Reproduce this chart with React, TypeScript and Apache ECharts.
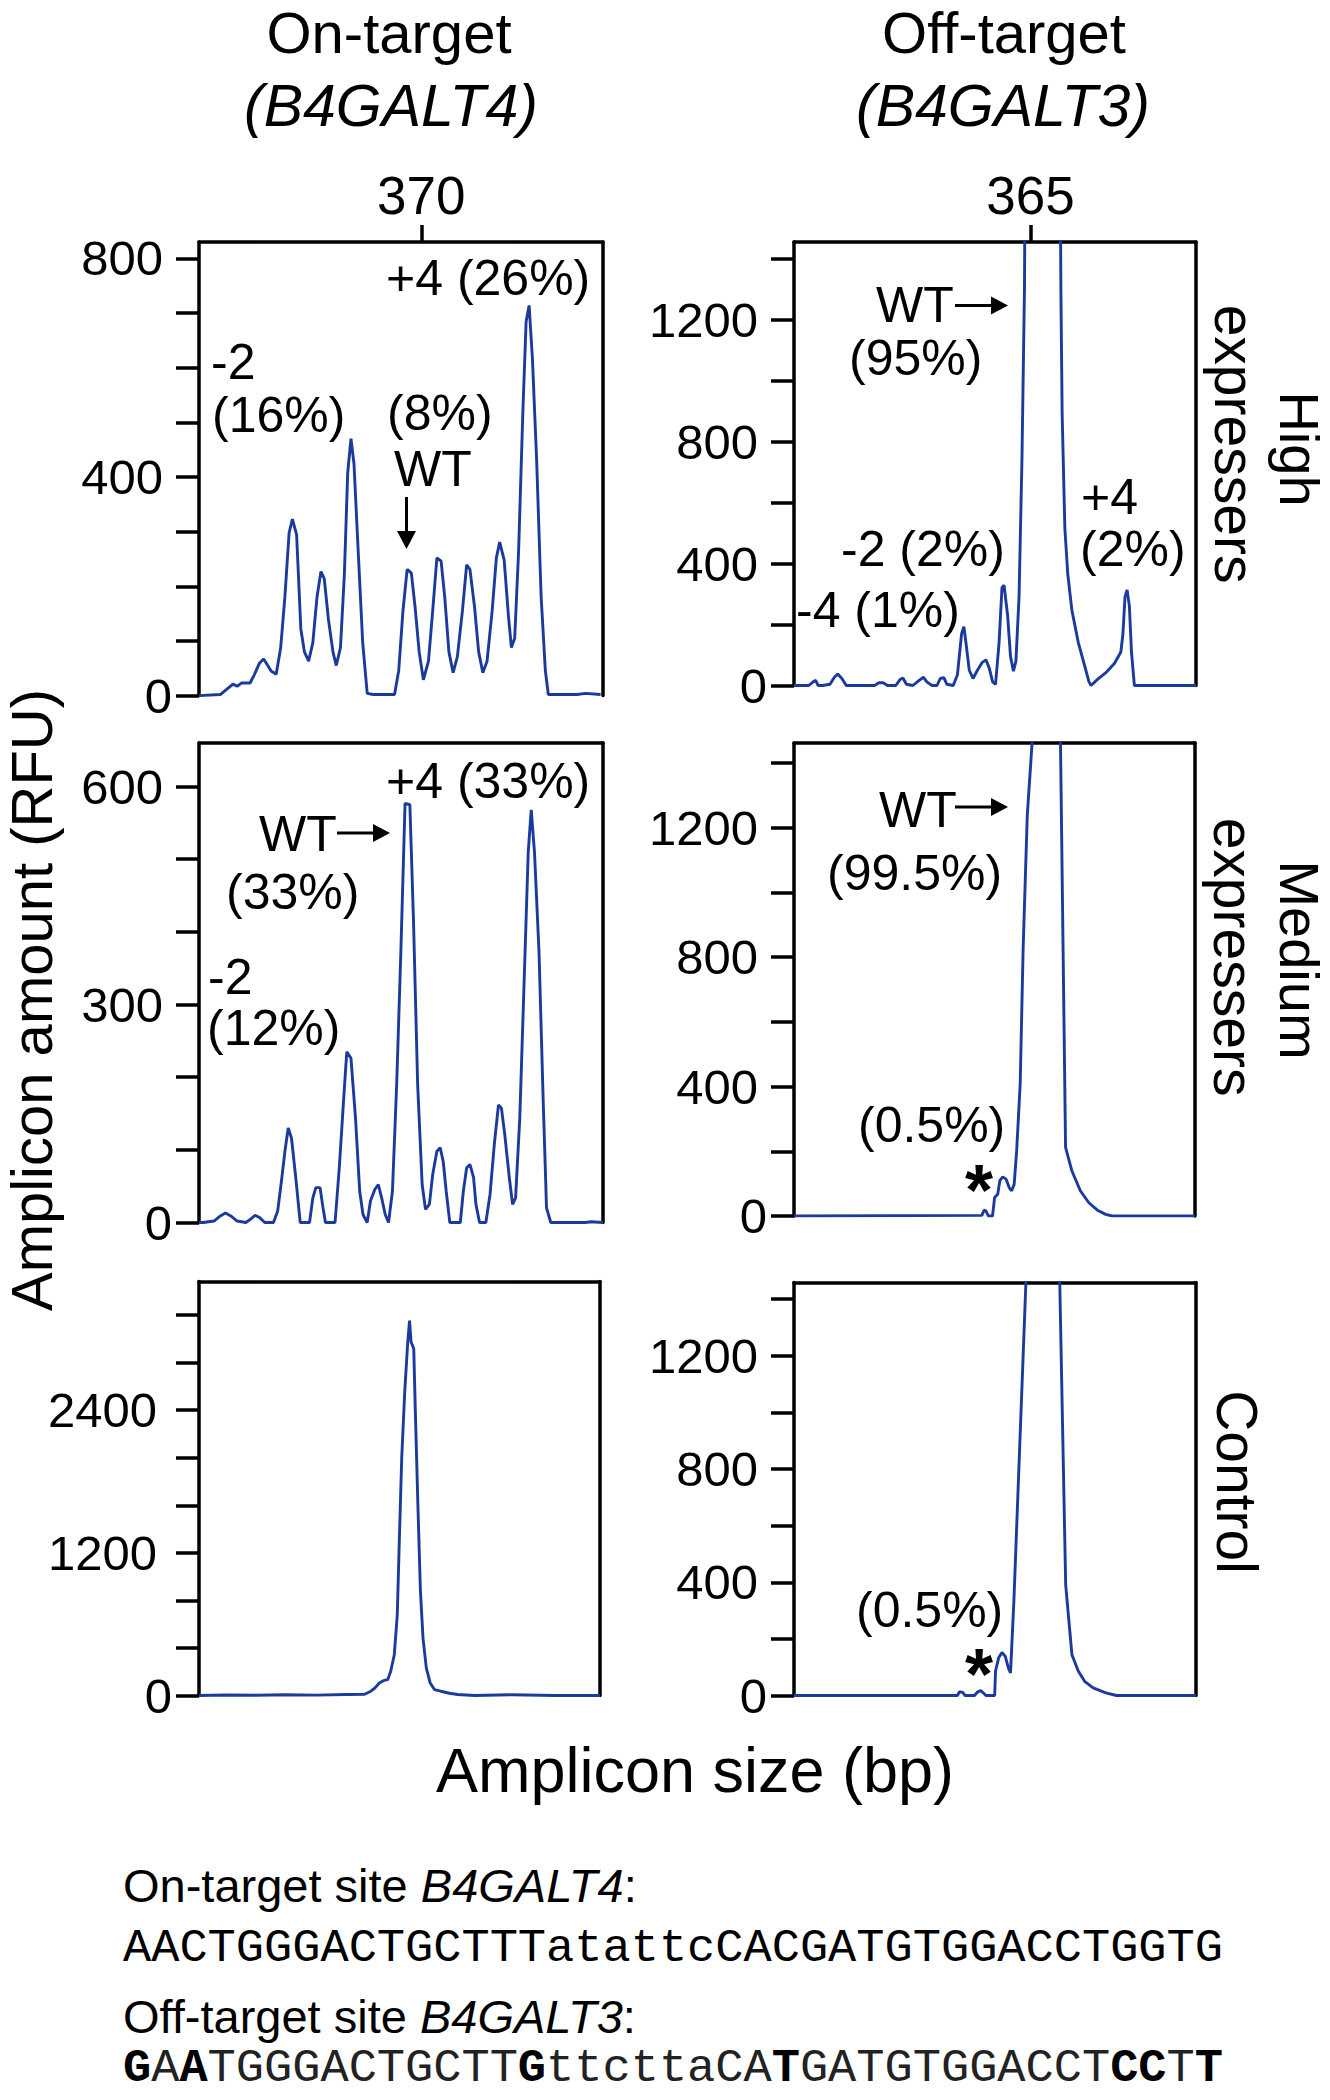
import React, { useEffect, useRef } from "react";
import * as echarts from "echarts";

const FONT = '"Liberation Sans", Arial, Helvetica, sans-serif';
const MONO = '"Liberation Mono", "Courier New", monospace';
const TRACE = "#1a3b9c";

// ---------- Data (amplicon size in bp, amount in RFU) ----------
const ON_HIGH_BP = [362.60, 363.31, 363.73, 363.87, 364.01, 364.30, 364.44, 364.61, 364.75, 364.89,
  365.00, 365.17, 365.32, 365.46, 365.60, 365.71, 365.85, 365.99, 366.11, 366.25,
  366.39, 366.53, 366.66, 366.77, 366.91, 367.06, 367.17, 367.31, 367.44, 367.55,
  367.66, 367.76, 367.90, 368.05, 368.20, 368.40, 369.11, 369.25, 369.39, 369.53,
  369.67, 369.79, 369.93, 370.07, 370.24, 370.38, 370.52, 370.66, 370.78, 370.92,
  371.06, 371.20, 371.37, 371.51, 371.62, 371.77, 371.91, 372.05, 372.19, 372.36,
  372.50, 372.61, 372.76, 372.90, 373.00, 373.11, 373.24, 373.38, 373.49, 373.59,
  373.70, 373.84, 373.99, 374.13, 374.23, 375.19, 375.47, 375.97];
const ON_HIGH_RFU = [0, 2, 21, 17, 23, 23, 38, 59, 67, 55,
  45, 39, 88, 181, 298, 323, 294, 122, 80, 63,
  97, 181, 227, 214, 139, 80, 55, 88, 222, 407,
  470, 424, 264, 97, 4, 2, 2, 46, 155, 231,
  224, 164, 80, 29, 63, 155, 252, 246, 181, 80,
  42, 71, 155, 239, 231, 164, 80, 42, 63, 155,
  252, 281, 248, 147, 88, 105, 264, 516, 684, 714,
  617, 432, 181, 46, 2, 2, 4, 2];

const OFF_HIGH_BP = [353.64, 354.35, 354.56, 354.68, 354.80, 355.01, 355.37, 355.58, 355.74, 355.94,
  356.15, 357.51, 357.72, 357.92, 358.13, 358.53, 358.74, 358.88, 359.04, 359.35,
  359.65, 359.86, 360.02, 360.27, 360.51, 360.67, 360.84, 360.98, 361.29, 361.49,
  361.69, 361.80, 361.90, 362.06, 362.24, 362.45, 362.67, 362.86, 363.02, 363.18,
  363.32, 363.49, 363.63, 363.73, 363.90, 364.04, 364.18, 364.30, 364.45, 364.59,
  364.71, 364.81, 365.59, 366.36, 366.46, 366.52, 366.65, 366.79, 366.99, 367.30,
  367.60, 367.81, 367.91, 368.22, 368.62, 369.03, 369.34, 369.44, 369.54, 369.64,
  369.75, 369.85, 369.99, 372.95];
const OFF_HIGH_RFU = [0, 0, 12, 17, 0, 0, 4, 27, 38, 23,
  0, 0, 9, 9, 0, 0, 20, 24, 4, 0,
  17, 27, 12, 0, 0, 23, 26, 4, 0, 35,
  170, 193, 140, 50, 23, 50, 75, 84, 57, 12,
  4, 140, 321, 329, 231, 95, 47, 80, 291, 743,
  1300, 2500, 14000, 2500, 1300, 894, 517, 366, 246, 140,
  65, 12, 0, 20, 42, 72, 110, 170, 291, 314,
  261, 110, 0, 0];

const ON_MED_BP = [362.60, 362.74, 363.10, 363.31, 363.48, 363.66, 363.87, 364.16, 364.33, 364.47,
  364.61, 364.79, 365.08, 365.22, 365.36, 365.46, 365.57, 365.68, 365.82, 365.97,
  366.28, 366.39, 366.49, 366.63, 366.73, 366.81, 367.13, 367.27, 367.41, 367.52,
  367.66, 367.81, 367.95, 368.06, 368.20, 368.31, 368.46, 368.57, 368.68, 368.80,
  368.91, 369.04, 369.18, 369.32, 369.46, 369.62, 369.74, 369.88, 370.03, 370.14,
  370.27, 370.38, 370.52, 370.63, 370.73, 370.83, 370.95, 371.30, 371.40, 371.51,
  371.62, 371.74, 371.82, 371.94, 372.15, 372.29, 372.43, 372.57, 372.67, 372.78,
  372.93, 373.04, 373.14, 373.28, 373.42, 373.56, 373.66, 373.77, 373.92, 374.06,
  374.17, 374.31, 375.47, 375.64, 376.05];
const ON_MED_RFU = [0, 0, 2, 9, 13, 9, 2, 0, 5, 10,
  7, 0, 0, 16, 62, 98, 130, 116, 62, 0,
  0, 34, 48, 48, 20, 0, 0, 75, 166, 235,
  226, 144, 43, 11, 0, 30, 46, 52, 34, 11,
  0, 43, 189, 372, 577, 575, 417, 189, 52, 18,
  25, 66, 98, 103, 84, 43, 0, 0, 43, 75,
  80, 62, 25, 0, 0, 39, 107, 162, 157, 121,
  62, 25, 34, 144, 326, 509, 568, 509, 372, 166,
  20, 0, 0, 1, 0];

const OFF_MED_BP = [353.64, 362.67, 362.77, 362.87, 362.98, 363.08, 363.18, 363.28, 363.43, 363.53,
  363.67, 363.83, 363.98, 364.10, 364.22, 364.34, 364.51, 364.65, 364.85, 365.12,
  365.77, 366.40, 366.69, 366.99, 367.40, 367.81, 368.22, 368.62, 368.93, 372.91];
const OFF_MED_RFU = [0, 2, 18, 15, 0, 0, 0, 57, 67, 109,
  121, 114, 88, 78, 98, 202, 409, 824, 1238, 1500,
  14000, 1700, 212, 140, 78, 41, 18, 5, 0, 0];

const ON_CTRL_BP = [362.60, 363.50, 364.50, 365.50, 366.50, 367.50, 368.12, 368.33, 368.47, 368.61,
  368.75, 368.89, 368.99, 369.11, 369.21, 369.28, 369.36, 369.46, 369.56, 369.62,
  369.67, 369.76, 369.81, 369.90, 369.98, 370.07, 370.18, 370.31, 370.45, 370.66,
  370.95, 371.23, 371.79, 373.00, 374.50, 375.97];
const ON_CTRL_RFU = [0, 4, 2, 6, 3, 8, 10, 36, 64, 105,
  125, 133, 202, 341, 673, 1311, 2004, 2558, 2974, 3154,
  2974, 2918, 2420, 1588, 895, 479, 230, 105, 50, 36,
  19, 8, 0, 6, 0, 0];

const OFF_CTRL_BP = [353.64, 361.49, 361.59, 361.73, 361.86, 362.00, 362.31, 362.47, 362.61, 362.75,
  362.86, 362.96, 363.06, 363.28, 363.32, 363.47, 363.63, 363.79, 363.94, 364.04,
  364.20, 364.79, 365.59, 366.40, 366.69, 366.99, 367.30, 367.60, 368.01, 368.62,
  369.13, 372.95];
const OFF_CTRL_RFU = [0, 0, 13, 12, 0, 0, 0, 13, 17, 8,
  0, 0, 0, 0, 86, 133, 152, 138, 97, 80,
  330, 1480, 14000, 1480, 391, 144, 86, 50, 27, 9,
  0, 0];

// Axis ranges and ticks
const ON_X = [362.6, 376.05];
const OFF_X = [353.64, 372.95];
const ON_TOP_TICK = [370];
const OFF_TOP_TICK = [365];
const TICKS_ON_HIGH = [0, 100, 200, 300, 400, 500, 600, 700, 800];
const LABELS_ON_HIGH = [400, 800];
const TICKS_ON_MED = [0, 100, 200, 300, 400, 500, 600];
const LABELS_ON_MED = [300, 600];
const TICKS_ON_CTRL = [0, 400, 800, 1200, 1600, 2000, 2400, 2800, 3200];
const LABELS_ON_CTRL = [1200, 2400];
const TICKS_OFF = [0, 200, 400, 600, 800, 1000, 1200, 1400];
const LABELS_OFF = [400, 800, 1200];
const ZERO_LABEL = [0];

// Texts
const COL_TITLES = ["On-target", "Off-target"];
const COL_GENES = ["(B4GALT4)", "(B4GALT3)"];
const Y_TITLE = "Amplicon amount (RFU)";
const X_TITLE = "Amplicon size (bp)";
const SEQ_ON = "AACTGGGACTGCTTTatattcCACGATGTGGACCTGGTG";
const SEQ_OFF_PARTS: [string, boolean][] = [
  ["G", true], ["A", false], ["A", true], ["TGGGACTGCTT", false], ["G", true],
  ["ttcttaCA", false], ["T", true], ["GATGTGGACCT", false], ["CC", true], ["T", false], ["T", true],
];

type Panel = {
  left: number; top: number; width: number; height: number;
  x: number[]; yMax: number; ticks: number[]; labels: number[]; labelMargin: number;
  topTick: number[] | null; bp: number[]; rfu: number[];
};

const PANELS: Panel[] = [
  { left: 199, top: 242, width: 404, height: 453.6, x: ON_X, yMax: 830, ticks: TICKS_ON_HIGH, labels: LABELS_ON_HIGH, labelMargin: 36, topTick: ON_TOP_TICK, bp: ON_HIGH_BP, rfu: ON_HIGH_RFU },
  { left: 794, top: 242, width: 402, height: 443.5, x: OFF_X, yMax: 1456, ticks: TICKS_OFF, labels: LABELS_OFF, labelMargin: 36, topTick: OFF_TOP_TICK, bp: OFF_HIGH_BP, rfu: OFF_HIGH_RFU },
  { left: 199, top: 743, width: 404, height: 479.5, x: ON_X, yMax: 660, ticks: TICKS_ON_MED, labels: LABELS_ON_MED, labelMargin: 36, topTick: null, bp: ON_MED_BP, rfu: ON_MED_RFU },
  { left: 794, top: 743, width: 401, height: 473, x: [OFF_X[0], 372.91], yMax: 1462, ticks: TICKS_OFF, labels: LABELS_OFF, labelMargin: 36, topTick: null, bp: OFF_MED_BP, rfu: OFF_MED_RFU },
  { left: 199, top: 1281.5, width: 401, height: 414, x: [ON_X[0], 375.97], yMax: 3483, ticks: TICKS_ON_CTRL, labels: LABELS_ON_CTRL, labelMargin: 42, topTick: null, bp: ON_CTRL_BP, rfu: ON_CTRL_RFU },
  { left: 794, top: 1282.5, width: 402, height: 413, x: OFF_X, yMax: 1459, ticks: TICKS_OFF, labels: LABELS_OFF, labelMargin: 36, topTick: null, bp: OFF_CTRL_BP, rfu: OFF_CTRL_RFU },
];

const FRAME = { color: "#000", width: 3.5 };
const plain = (v: number) => String(v);
const TICK_FONT = 49;

function txt(text: string, x: number, y: number, o: any = {}) {
  const size = o.size || 50;
  return {
    type: "text", x, y, rotation: o.rotation || 0, silent: true, z: 100,
    style: {
      text, fill: "#000", fontSize: size, fontFamily: o.family || FONT,
      fontStyle: o.italic ? "italic" : "normal", fontWeight: o.bold ? "bold" : "normal",
      lineHeight: o.lh || Math.round(size * 0.86),
      align: o.align || "left", verticalAlign: "middle", rich: o.rich,
    },
  };
}
function arrowDown(x: number, y1: number, y2: number) {
  return [
    { type: "line", silent: true, shape: { x1: x, y1, x2: x, y2: y2 - 14 }, style: { stroke: "#000", lineWidth: 3 } },
    { type: "polygon", silent: true, shape: { points: [[x - 9.5, y2 - 18], [x + 9.5, y2 - 18], [x, y2]] }, style: { fill: "#000" } },
  ];
}
function arrowRight(x1: number, x2: number, y: number) {
  return [
    { type: "line", silent: true, shape: { x1, y1: y, x2: x2 - 14, y2: y }, style: { stroke: "#000", lineWidth: 3 } },
    { type: "polygon", silent: true, shape: { points: [[x2 - 17, y - 9], [x2 - 17, y + 9], [x2, y]] }, style: { fill: "#000" } },
  ];
}

export default function App() {
  const ref = useRef<HTMLDivElement>(null);
  useEffect(() => {
    if (!ref.current) return;
    const chart = echarts.init(ref.current, null, { renderer: "svg", width: 1330, height: 2100 });

    const grid = PANELS.map((p) => ({ left: p.left, top: p.top, width: p.width, height: p.height }));
    const xAxis = PANELS.map((p, i) => ({
      gridIndex: i, type: "value", min: p.x[0], max: p.x[1], position: "top",
      axisLine: { show: true, onZero: false, lineStyle: FRAME },
      axisTick: p.topTick
        ? { show: true, length: 17, customValues: p.topTick, lineStyle: FRAME }
        : { show: false },
      axisLabel: p.topTick
        ? { show: true, customValues: p.topTick, formatter: plain, margin: 20, fontSize: 53, color: "#000", fontFamily: FONT }
        : { show: false },
      splitLine: { show: false },
    }));
    const yAxis: any[] = [];
    PANELS.forEach((p, i) => {
      // left frame side with ticks and labels
      yAxis.push({
        gridIndex: i, type: "value", min: 0, max: p.yMax, position: "left",
        axisLine: { show: true, onZero: false, lineStyle: FRAME },
        axisTick: { show: true, length: 23, customValues: p.ticks, lineStyle: FRAME },
        axisLabel: { show: true, customValues: p.labels, formatter: plain, margin: p.labelMargin, fontSize: TICK_FONT, color: "#000", fontFamily: FONT },
        splitLine: { show: false },
      });
      // right frame side
      yAxis.push({
        gridIndex: i, type: "value", min: 0, max: p.yMax, position: "right",
        axisLine: { show: true, onZero: false, lineStyle: FRAME },
        axisTick: { show: false }, axisLabel: { show: false }, splitLine: { show: false },
      });
      // the "0" label sits a little closer to the axis
      yAxis.push({
        gridIndex: i, type: "value", min: 0, max: p.yMax, position: "left",
        axisLine: { show: false }, axisTick: { show: false }, splitLine: { show: false },
        axisLabel: { show: true, customValues: ZERO_LABEL, formatter: plain, margin: 27, fontSize: TICK_FONT, color: "#000", fontFamily: FONT },
      });
    });
    const series = PANELS.map((p, i) => ({
      type: "line", xAxisIndex: i, yAxisIndex: 3 * i,
      data: p.bp.map((b, j) => [b, p.rfu[j]]),
      showSymbol: false, symbol: "none", clip: true, silent: true,
      lineStyle: { color: TRACE, width: 2.9 },
    }));

    const rich = {
      n: { fontSize: 47, fontFamily: FONT, fontStyle: "normal", lineHeight: 40 },
      i: { fontSize: 47, fontFamily: FONT, fontStyle: "italic", lineHeight: 40 },
    };
    const seqRich = {
      n: { fontSize: 47, fontFamily: MONO, fontWeight: "normal", fill: "#222", lineHeight: 34 },
      b: { fontSize: 47, fontFamily: MONO, fontWeight: "bold", fill: "#000", lineHeight: 34 },
    };
    const seqOffText = SEQ_OFF_PARTS.map(([s, b]) => `{${b ? "b" : "n"}|${s}}`).join("");
    const ROT = -Math.PI / 2;

    const graphic: any[] = [
      txt(COL_TITLES[0], 389, 32, { size: 58, align: "center", lh: 50 }),
      txt(COL_GENES[0], 391, 106, { size: 59, align: "center", italic: true }),
      txt(COL_TITLES[1], 1004, 32, { size: 58, align: "center", lh: 50 }),
      txt(COL_GENES[1], 1003, 106, { size: 59, align: "center", italic: true }),
      txt("High", 1299, 449, { size: 56, align: "center", rotation: ROT, lh: 44 }),
      txt("expressers", 1235, 444, { size: 57, align: "center", rotation: ROT, lh: 44 }),
      txt("Medium", 1299, 960, { size: 56, align: "center", rotation: ROT, lh: 44 }),
      txt("expressers", 1234, 957, { size: 57, align: "center", rotation: ROT, lh: 44 }),
      txt("Control", 1237, 1482, { size: 57, align: "center", rotation: ROT, lh: 44 }),
      txt(Y_TITLE, 31, 1000, { size: 58, align: "center", rotation: Math.PI / 2, lh: 46 }),
      txt(X_TITLE, 695, 1770, { size: 63, align: "center" }),
      // panel annotations
      txt("+4 (26%)", 386, 278), txt("-2", 211, 362, { lh: 40 }), txt("(16%)", 212, 415, { lh: 40 }),
      txt("(8%)", 387, 413, { lh: 40 }), txt("WT", 394, 469, { lh: 40 }),
      txt("WT", 876, 305), txt("(95%)", 849, 358), txt("-2 (2%)", 841, 549), txt("-4 (1%)", 796, 610),
      txt("+4", 1081, 497, { lh: 40 }), txt("(2%)", 1080, 549, { lh: 40 }),
      txt("+4 (33%)", 386, 781), txt("WT", 259, 834), txt("(33%)", 226, 892), txt("-2", 208, 977, { lh: 40 }), txt("(12%)", 207, 1028, { lh: 40 }),
      txt("WT", 879, 810), txt("(99.5%)", 827, 873), txt("(0.5%)", 858, 1125, { lh: 38 }),
      txt("(0.5%)", 856, 1610, { lh: 38 }),
      txt("*", 979, 1190, { size: 72, bold: true, align: "center", lh: 26 }),
      txt("*", 979, 1674, { size: 72, bold: true, align: "center", lh: 26 }),
      ...arrowDown(406.5, 497, 549),
      ...arrowRight(955, 1008, 305.5),
      ...arrowRight(337, 390, 833),
      ...arrowRight(955, 1008, 807),
      // bottom sequences
      txt("{n|On-target site }{i|B4GALT4}{n|:}", 123, 1885, { size: 47, rich, lh: 40 }),
      txt(SEQ_ON, 123, 1948, { size: 47, family: MONO, lh: 40 }),
      txt("{n|Off-target site }{i|B4GALT3}{n|:}", 123, 2016, { size: 47, rich, lh: 40 }),
      txt(seqOffText, 123, 2068, { size: 47, family: MONO, rich: seqRich, lh: 34 }),
    ];

    chart.setOption({
      animation: false,
      backgroundColor: "#fff",
      grid, xAxis, yAxis, series, graphic,
    });
    return () => chart.dispose();
  }, []);
  return <div ref={ref} style={{ position: "absolute", left: 0, top: 0, width: 1330, height: 2100 }} />;
}
